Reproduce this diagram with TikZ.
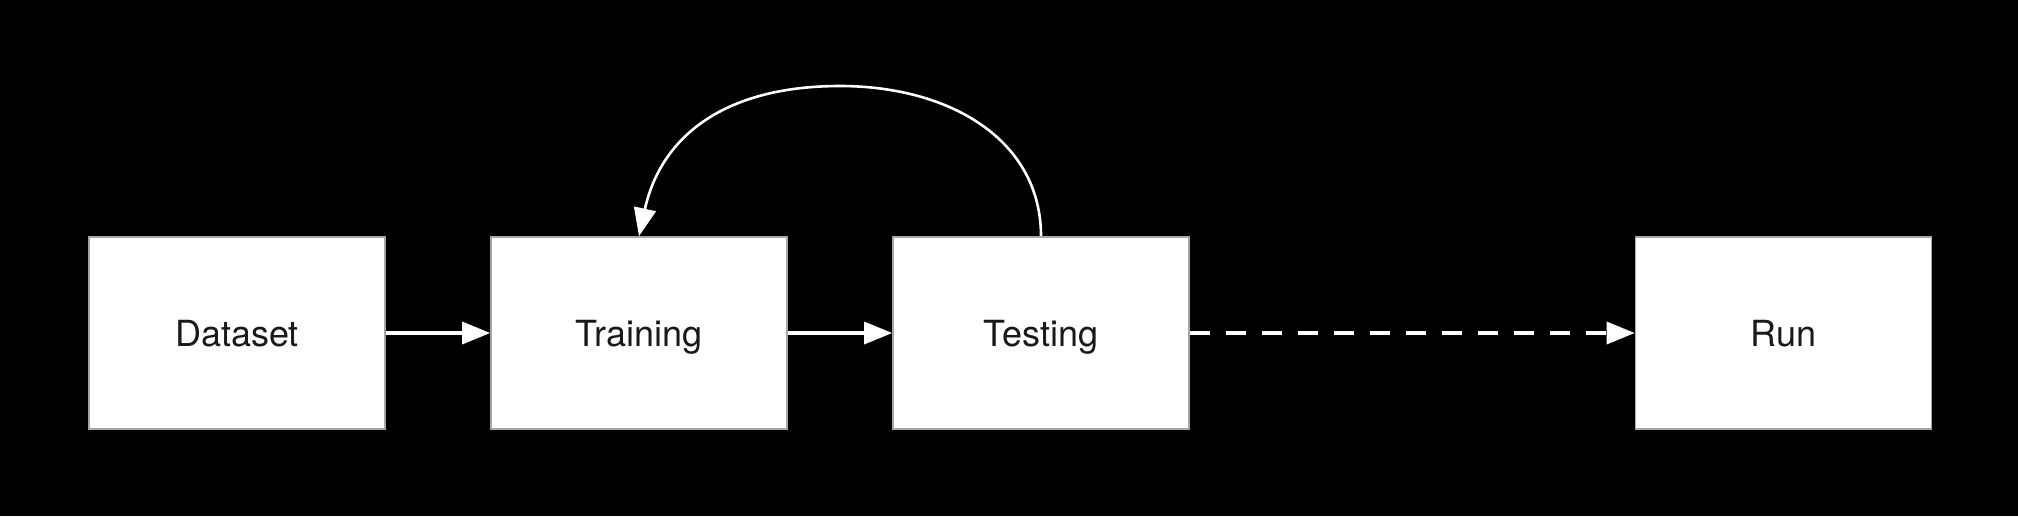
\documentclass[tikz,border=0pt]{standalone}
\usepackage{fontspec}
\setmainfont{TeX Gyre Heros}
\usetikzlibrary{arrows.meta}
\begin{document}
\begin{tikzpicture}[x=0.5pt,y=-0.5pt,
  stagebox/.style={draw=gray!70,line width=0.8pt,fill=white,minimum width=148pt,minimum height=96pt,inner sep=0pt,
    text height=13pt,text depth=0pt,font=\fontsize{18}{20}\selectfont,text=black!90},
  flow/.style={draw=white,line width=1.7pt,-{Triangle[length=14pt,width=11pt]}},
  dashflow/.style={flow,dash pattern=on 10pt off 8pt}]
\fill[black] (0,0) rectangle (2018,516);
\useasboundingbox (0,0) rectangle (2018,516);
\node[stagebox] (dataset) at (237,333) {Dataset};
\node[stagebox] (training) at (639,333) {Training};
\node[stagebox] (testing) at (1041,333) {Testing};
\node[stagebox] (run) at (1783.5,333) {Run};
\coordinate (peak) at (840,86);
\draw[flow] (dataset.east) -- (training.west);
\draw[flow] (training.east) -- (testing.west);
\draw[dashflow] (testing.east) -- (run.west);
\draw[flow,line width=1.3pt] (testing.north) .. controls (1041,140) and (950,86) .. (peak)
  .. controls (720,86) and (660,140) .. (training.north);
\end{tikzpicture}
\end{document}
